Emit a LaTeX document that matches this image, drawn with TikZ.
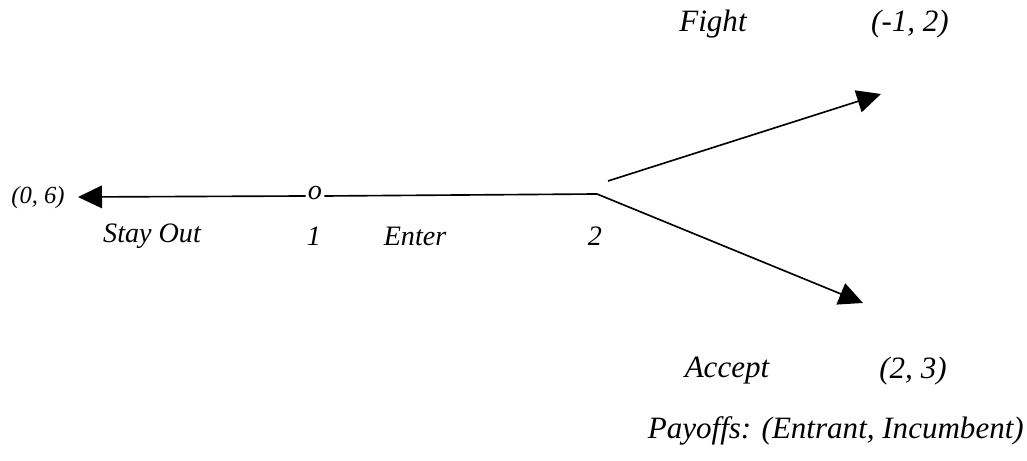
\documentclass[tikz,border=0pt]{standalone}
\usepackage{fontspec}
\setmainfont{Liberation Serif}
\usetikzlibrary{arrows.meta}
\begin{document}
\begin{tikzpicture}[x=0.03cm,y=-0.03cm,
  lbl/.style={font=\fontsize{21}{24}\selectfont\itshape, inner sep=0pt},
  mid/.style={font=\fontsize{24}{27}\selectfont\itshape, inner sep=0pt},
  big/.style={font=\fontsize{26.5}{30}\selectfont\itshape, inner sep=0pt},
  edge/.style={line width=1.4pt},
  arr/.style={edge, -{Triangle[length=0.72cm,width=0.68cm]}}]
\useasboundingbox (0,0) rectangle (1027,461);
% texts
\node[lbl] (p06) at (38,198) {(0, 6)};
\node[mid] (o) at (315,193) {o};
\node[mid] (stay) at (152,236) {Stay Out};
\node[mid] (one) at (314,236) {1};
\node[mid] (enter) at (415,236) {Enter};
\node[mid] (two) at (595,236) {2};
\node[big] (fight) at (713,24) {Fight};
\node[big] (pfight) at (910,24) {(-1, 2)};
\node[big] (accept) at (727,371) {Accept};
\node[big] (paccept) at (913,371) {(2, 3)};
\node[big, anchor=east] (pay) at (1024,431) {Payoffs: (Entrant, Incumbent)};
% coordinates
\coordinate (tipL) at (78,197);
\coordinate (n2) at (597,194);
\coordinate (up0) at (608,181);
\coordinate (tipU) at (881,94);
\coordinate (tipD) at (863,303);
% connectors
\draw[arr] (o.west) ++(-2,3) -- (tipL);
\draw[edge] ([shift={(2,3)}]o.east) -- (n2);
\draw[arr] (up0) -- (tipU);
\draw[arr] (n2) -- (tipD);
\end{tikzpicture}
\end{document}
